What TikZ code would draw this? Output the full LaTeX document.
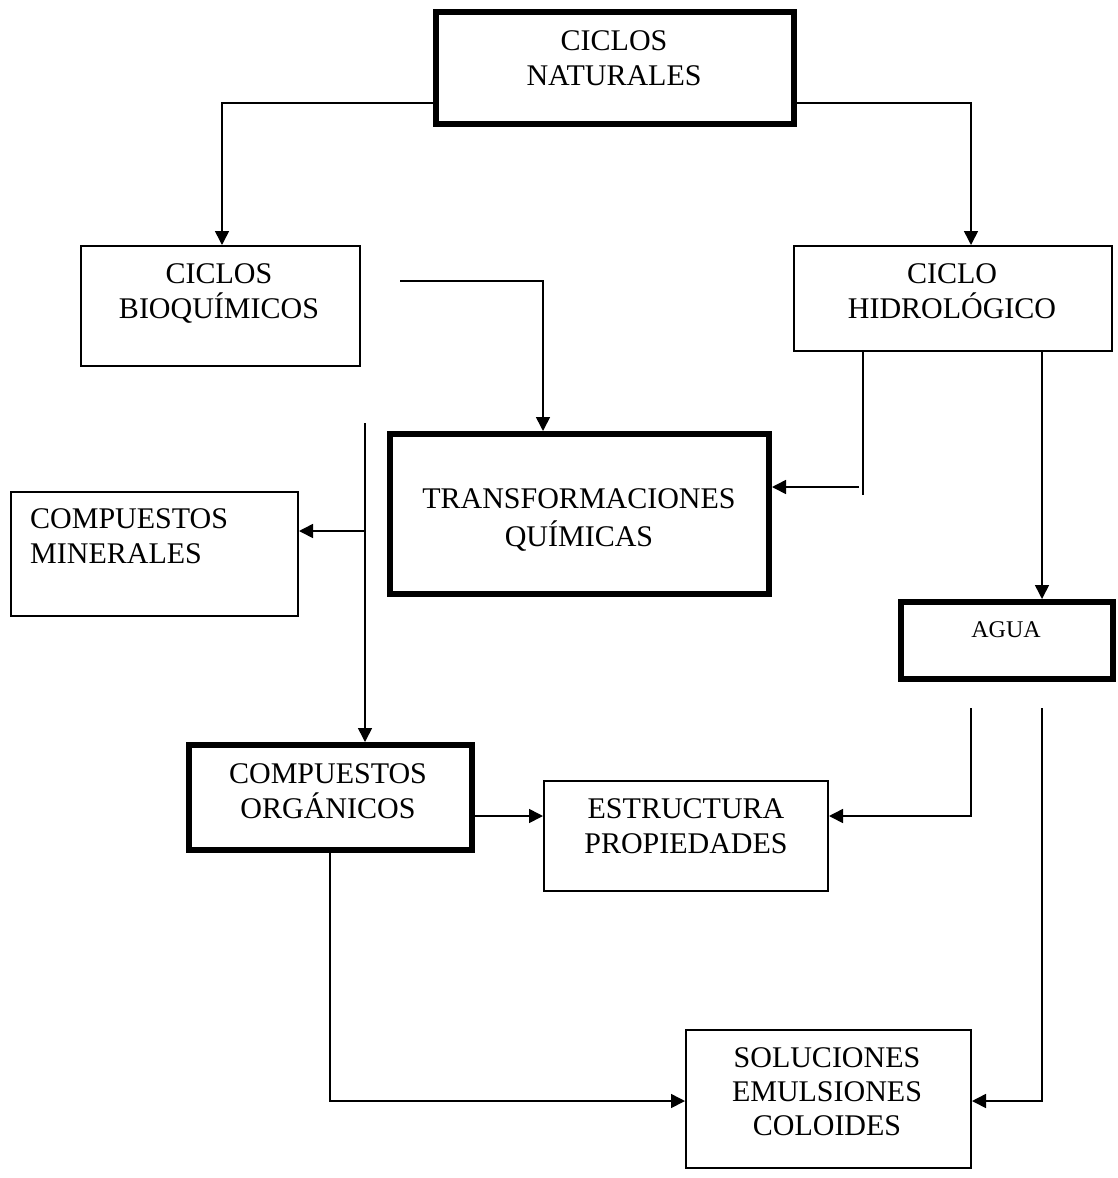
\documentclass[tikz,border=0pt]{standalone}
\usepackage{fontspec}
\setmainfont{Liberation Serif}
\usetikzlibrary{arrows.meta}
\begin{document}
\begin{tikzpicture}[x=1pt,y=-1pt,
  thinbox/.style={draw, line width=1.6pt, inner sep=0pt},
  thickbox/.style={draw, line width=6pt, inner sep=0pt},
  txt/.style={font=\fontsize{30}{35}\selectfont, inner sep=0pt, anchor=base},
  txtl/.style={font=\fontsize{30}{35}\selectfont, inner sep=0pt, anchor=base west},
  smalltxt/.style={font=\fontsize{24}{28}\selectfont, inner sep=0pt, anchor=base},
  conn/.style={line width=1.6pt},
  arr/.style={conn, -{Triangle[length=14pt,width=14pt]}}]
\fill[white] (0,0) rectangle (1118,1178);
\useasboundingbox (0,0) rectangle (1118,1178);

% boxes
\node[thickbox, minimum width=358pt, minimum height=112pt] (nat) at (615,68) {};
\node[thinbox, minimum width=279.4pt, minimum height=120.4pt] (bioq) at (220.5,306) {};
\node[thinbox, minimum width=318.4pt, minimum height=105.4pt] (hidro) at (953,298.5) {};
\node[thickbox, minimum width=379pt, minimum height=160pt] (transf) at (579.5,514) {};
\node[thinbox, minimum width=287.4pt, minimum height=124.4pt] (miner) at (154.5,554) {};
\node[thickbox, minimum width=212pt, minimum height=77pt] (agua) at (1007,640.5) {};
\node[thickbox, minimum width=283pt, minimum height=105pt] (org) at (330,797.5) {};
\node[thinbox, minimum width=284.4pt, minimum height=110.4pt] (estr) at (686,836) {};
\node[thinbox, minimum width=285.4pt, minimum height=138.4pt] (sol) at (828.5,1099) {};

% texts
\node[txt] (natA) at (614,50) {CICLOS};
\node[txt] (natB) at (614,85) {NATURALES};
\node[txt] (bioqA) at (219,283) {CICLOS};
\node[txt] (bioqB) at (219,318) {BIOQUÍMICOS};
\node[txt] (hidroA) at (952,283) {CICLO};
\node[txt] (hidroB) at (952,318) {HIDROLÓGICO};
\node[txt] (transfA) at (579,508) {TRANSFORMACIONES};
\node[txt] (transfB) at (579,546) {QUÍMICAS};
\node[txtl] (minerA) at (30,528) {COMPUESTOS};
\node[txtl] (minerB) at (30,563) {MINERALES};
\node[smalltxt] (aguaA) at (1006,637) {AGUA};
\node[txt] (orgA) at (328,783) {COMPUESTOS};
\node[txt] (orgB) at (328,818) {ORGÁNICOS};
\node[txt] (estrA) at (686,818) {ESTRUCTURA};
\node[txt] (estrB) at (686,853) {PROPIEDADES};
\node[txt] (solA) at (827,1067) {SOLUCIONES};
\node[txt] (solB) at (827,1101) {EMULSIONES};
\node[txt] (solC) at (827,1135) {COLOIDES};

% helper coordinates
\coordinate (k1) at (222,103);
\coordinate (k2) at (971,103);
\coordinate (s3) at (400,281);
\coordinate (k3) at (543,281);
\coordinate (s4) at (365,423);
\coordinate (k4) at (365,531);
\coordinate (k5) at (863,495);
\coordinate (s5) at (859,487);
\coordinate (k6) at (1042,0);
\coordinate (s7) at (971,708);
\coordinate (k7) at (971,816);
\coordinate (s8) at (1042,708);
\coordinate (k8) at (1042,1101);

% connectors
\draw[arr] (nat.west |- k1) -- (k1) -- (k1 |- bioq.north);
\draw[arr] (nat.east |- k2) -- (k2) -- (k2 |- hidro.north);
\draw[arr] (s3) -- (k3) -- (k3 |- transf.north);
\draw[arr] (s4) -- (s4 |- org.north);
\draw[arr] (k4) -- (k4 -| miner.east);
\draw[conn] (k5 |- hidro.south) -- (k5);
\draw[arr] (s5) -- (s5 -| transf.east);
\draw[arr] (k6 |- hidro.south) -- (k6 |- agua.north);
\draw[arr] (s7) -- (k7) -- (k7 -| estr.east);
\draw[arr] (s8) -- (k8) -- (k8 -| sol.east);
\draw[arr] (org.east |- k7) -- (estr.west |- k7);
\draw[arr] (org.south) |- (sol.west |- k8);
\end{tikzpicture}
\end{document}
